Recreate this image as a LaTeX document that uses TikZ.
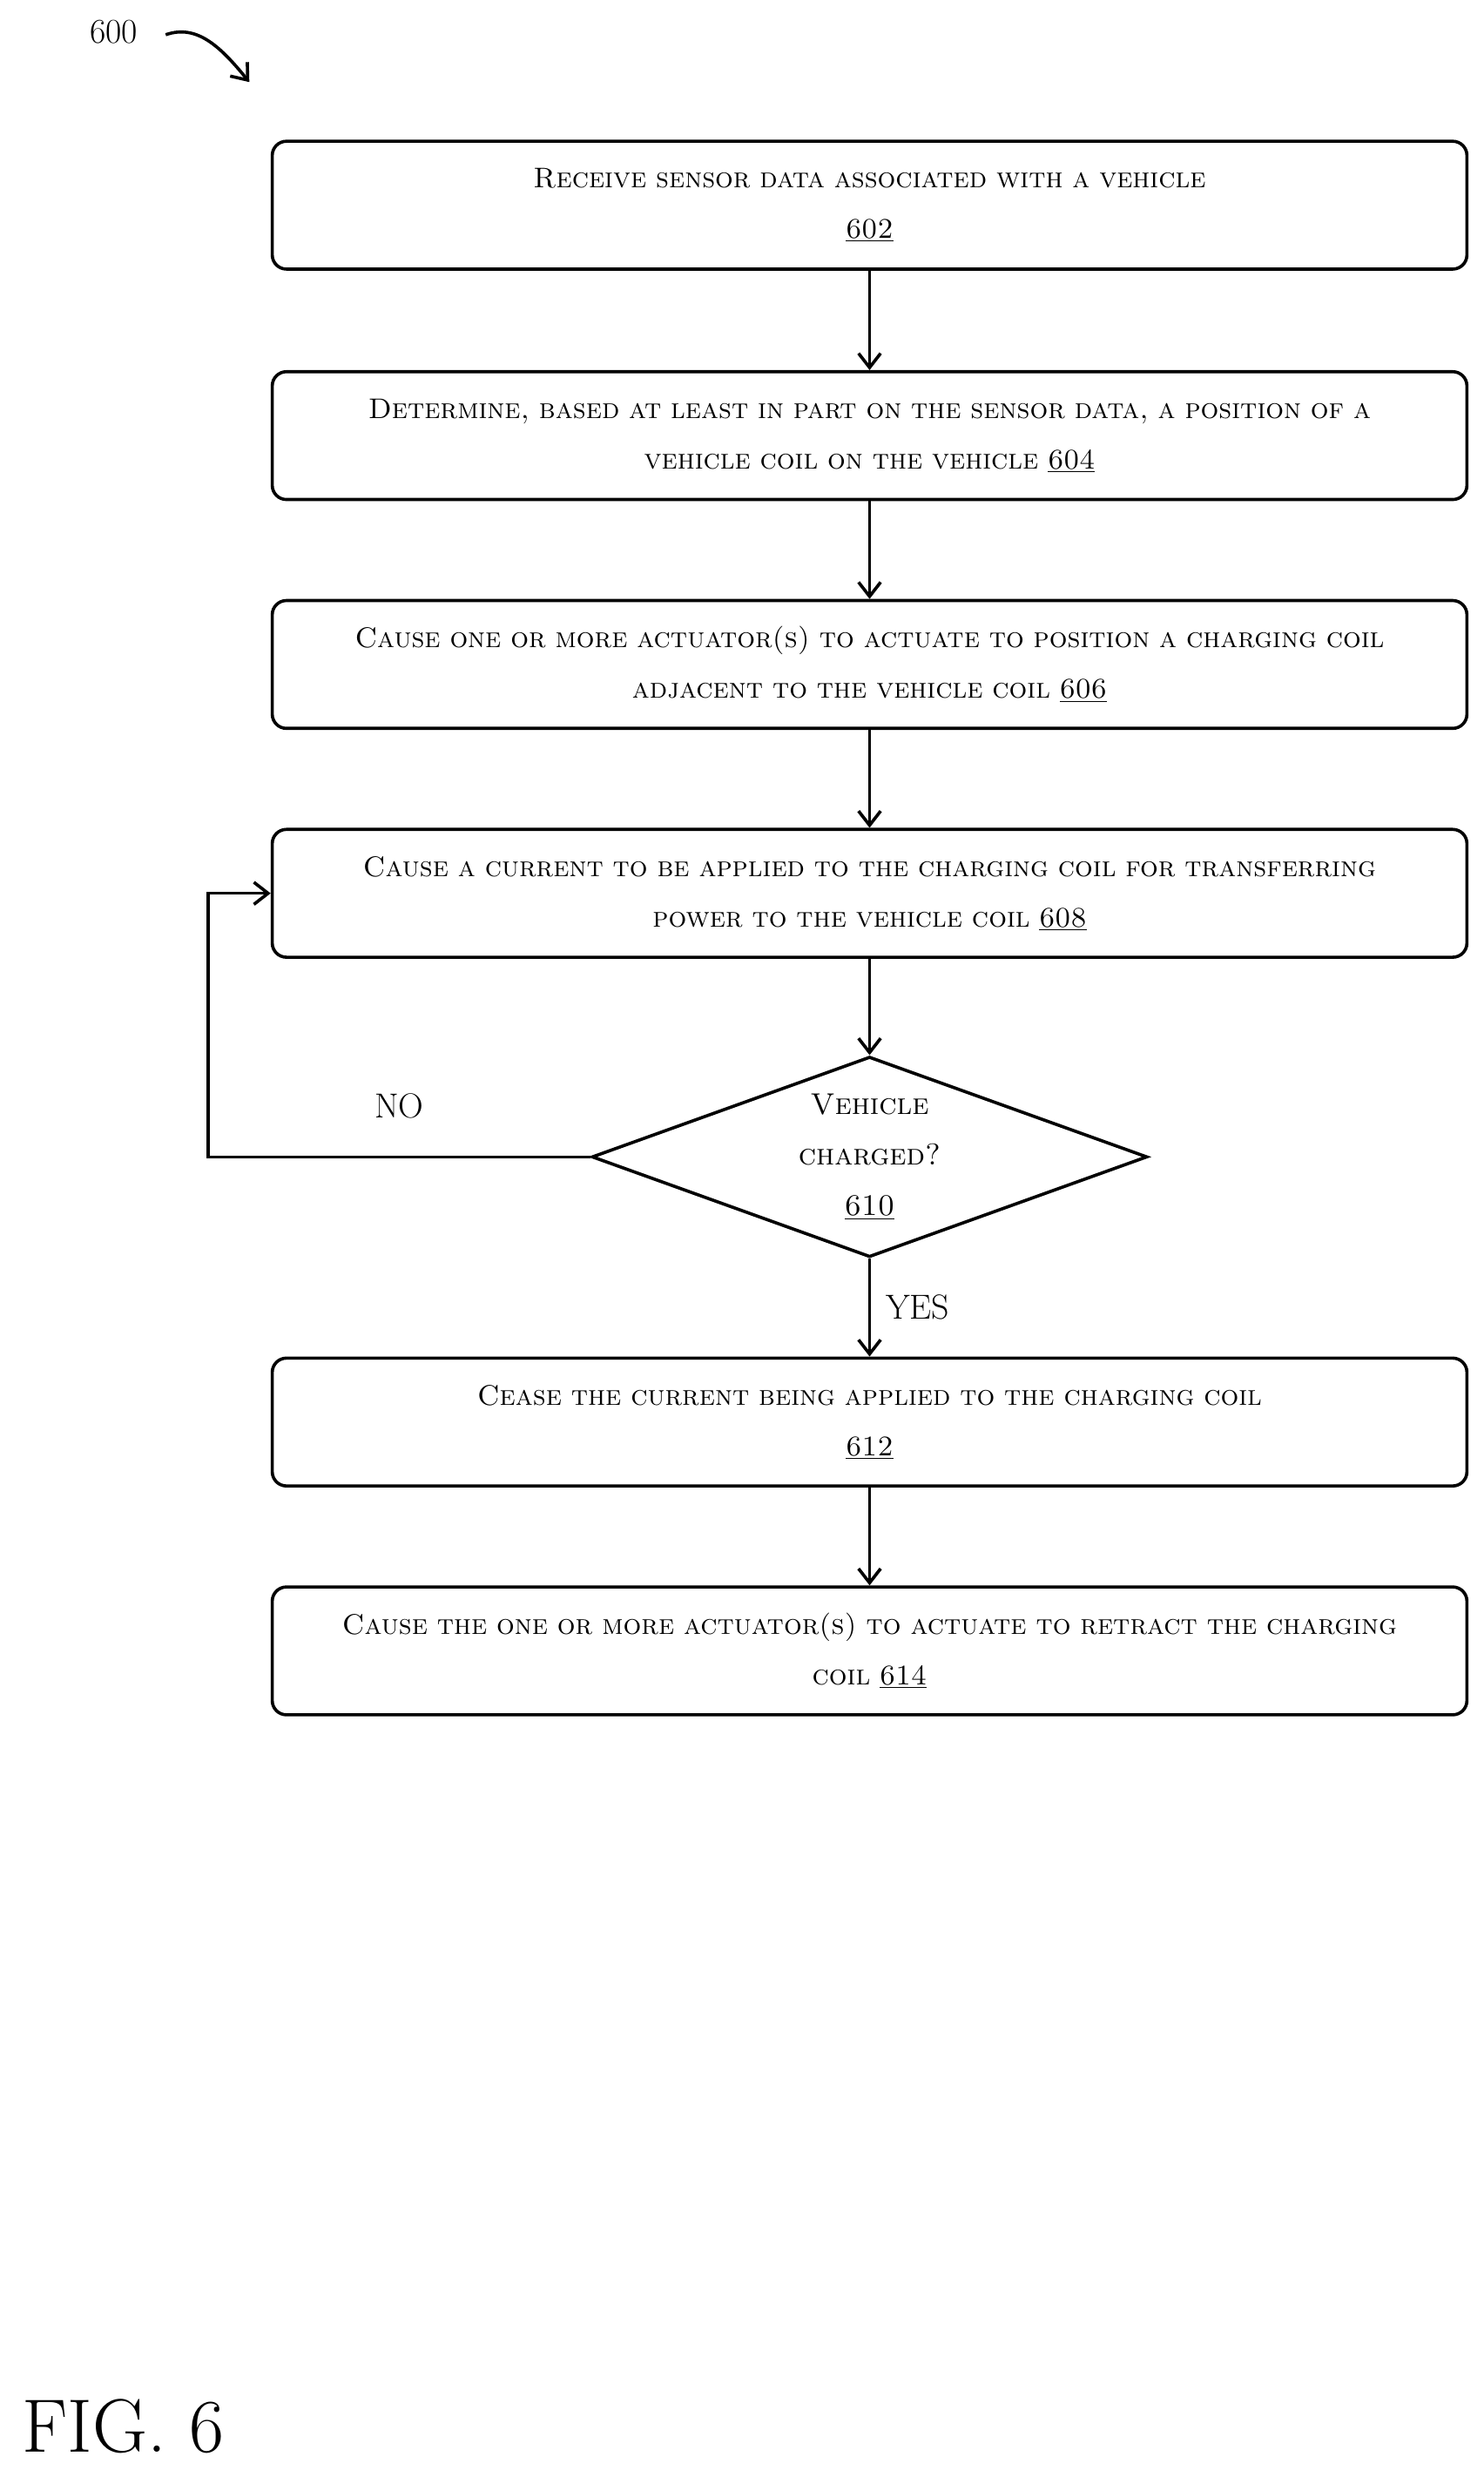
\documentclass[tikz,border=0pt]{standalone}
\usepackage{tikz}
\usetikzlibrary{arrows.meta, positioning, shapes.geometric}

\tikzset{
  stepbox/.style = {draw, line width=2pt, rounded corners=9pt, minimum width=757pt,
                 minimum height=81pt, text width=750pt, align=center,
                 font=\fontsize{18}{32}\selectfont\scshape, inner sep=0pt},
  check/.style = {draw, diamond, line width=2pt, aspect=2.77, minimum width=352pt,
                  minimum height=127pt, inner sep=0pt, align=center,
                  font=\fontsize{19}{32}\selectfont\scshape},
  flow/.style = {-{Straight Barb[length=9pt,width=14pt]}, line width=2pt},
  lbl/.style = {font=\fontsize{22}{26}\selectfont}
}

\begin{document}
\begin{tikzpicture}[x=1pt, y=-1pt]
  \useasboundingbox (0,0) rectangle (940,1565);

  % figure label and reference
  \node[lbl] (fignum) at (72,20) {600};
  \draw[flow] (105,22) .. controls (125,15) and (140,30) .. (158,52);
  \node[font=\fontsize{48}{52}\selectfont] (fig) at (78,1537) {FIG. 6};

  % steps
  \node[stepbox] (s602) at (551,130) {Receive sensor data associated with a vehicle\\ \underline{602}};
  \node[stepbox] (s604) at (551,276) {Determine, based at least in part on the sensor data, a position of a\\ vehicle coil on the vehicle \underline{604}};
  \node[stepbox] (s606) at (551,421) {Cause one or more actuator(s) to actuate to position a charging coil\\ adjacent to the vehicle coil \underline{606}};
  \node[stepbox] (s608) at (551,566) {Cause a current to be applied to the charging coil for transferring\\ power to the vehicle coil \underline{608}};
  \node[check] (d610) at (551,733) {Vehicle\\ charged?\\ \underline{610}};
  \node[stepbox] (s612) at (551,901) {Cease the current being applied to the charging coil\\ \underline{612}};
  \node[stepbox] (s614) at (551,1046) {Cause the one or more actuator(s) to actuate to retract the charging\\ coil \underline{614}};

  % connectors
  \draw[flow] (s602) -- (s604);
  \draw[flow] (s604) -- (s606);
  \draw[flow] (s606) -- (s608);
  \draw[flow] (s608) -- (d610);
  \draw[flow] (d610) -- node[lbl, right=6pt, pos=0.5] {YES} (s612);
  \draw[flow] (s612) -- (s614);
  \draw[flow] (d610.west) -- (132,733) -- (132,566) -- (s608.west);
  \node[lbl] (no) at (253,701) {NO};
\end{tikzpicture}
\end{document}
